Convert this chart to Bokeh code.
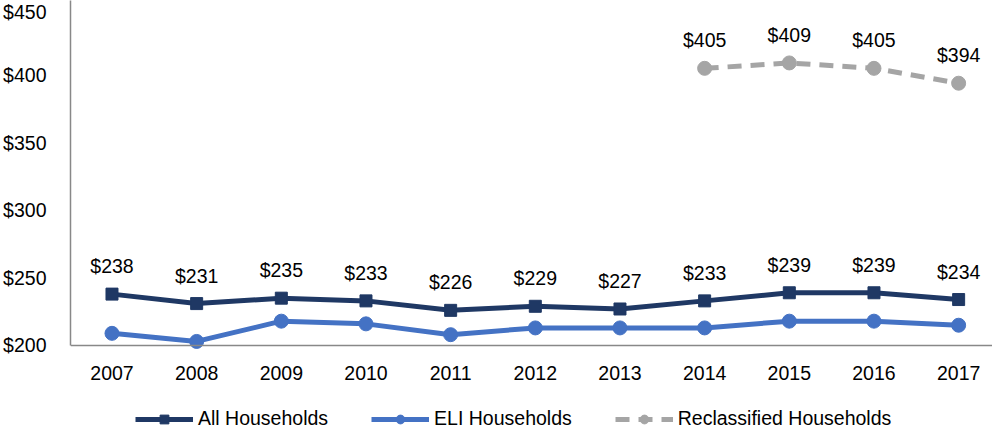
from bokeh.plotting import figure
from bokeh.models import ColumnDataSource, LabelSet, Legend, LegendItem, Range1d, FixedTicker, CustomJSTickFormatter
from bokeh.core.properties import value
from bokeh.embed import file_html
from bokeh.resources import INLINE

years = [2007, 2008, 2009, 2010, 2011, 2012, 2013, 2014, 2015, 2016, 2017]
all_households = [238, 231, 235, 233, 226, 229, 227, 233, 239, 239, 234]
eli_households = [209, 203, 218, 216, 208, 213, 213, 213, 218, 218, 215]
reclass_years = [2014, 2015, 2016, 2017]
reclass_households = [405, 409, 405, 394]
y_ticks = [200, 250, 300, 350, 400, 450]

NAVY = "#1F3864"
BLUE = "#4472C4"
GRAY = "#A5A5A5"
FONT = "Liberation Sans"
FS = "19.5px"

p = figure(width=992, height=433, output_backend="svg", toolbar_location=None,
           x_range=Range1d(2006.51, 2017.4), y_range=Range1d(134.91, 455.18),
           min_border_left=62, min_border_right=0, min_border_top=0, min_border_bottom=0)
p.outline_line_color = None
p.xgrid.visible = False
p.ygrid.visible = False
p.background_fill_color = "white"

src_all = ColumnDataSource(dict(x=years, y=all_households, t=[f"${v}" for v in all_households]))
src_eli = ColumnDataSource(dict(x=years, y=eli_households))
src_rec = ColumnDataSource(dict(x=reclass_years, y=reclass_households, t=[f"${v}" for v in reclass_households]))

l1 = p.line("x", "y", source=src_all, line_color=NAVY, line_width=5)
m1 = p.scatter("x", "y", source=src_all, marker="square", size=12, fill_color=NAVY, line_color=NAVY)
l2 = p.line("x", "y", source=src_eli, line_color=BLUE, line_width=5)
m2 = p.scatter("x", "y", source=src_eli, marker="circle", size=14, fill_color=BLUE, line_color=BLUE)
l3 = p.line("x", "y", source=src_rec, line_color=GRAY, line_width=5, line_dash="14 9")
m3 = p.scatter("x", "y", source=src_rec, marker="circle", size=14, fill_color=GRAY, line_color=GRAY)

for src in (src_all, src_rec):
    labels = LabelSet(x="x", y="y", text="t", source=src, y_offset=21,
                      text_align="center", text_baseline="alphabetic",
                      text_font=value(FONT), text_font_size=value(FS), text_color="#000000")
    p.add_layout(labels)

p.xaxis.ticker = FixedTicker(ticks=years)
p.xaxis.fixed_location = 200
p.yaxis.ticker = FixedTicker(ticks=y_ticks)
p.yaxis.bounds = (200, 455.18)
p.yaxis.formatter = CustomJSTickFormatter(code="return '$' + tick;")
for ax in (p.xaxis[0], p.yaxis[0]):
    ax.axis_line_color = "#888888"
    ax.axis_line_width = 1.5
    ax.major_tick_line_color = None
    ax.minor_tick_line_color = None
    ax.major_label_text_font = FONT
    ax.major_label_text_font_size = FS
    ax.major_label_text_color = "#000000"
p.yaxis.major_label_standoff = 18
p.xaxis.major_label_standoff = 15

legend = Legend(items=[
    LegendItem(label="All Households", renderers=[l1, m1]),
    LegendItem(label="ELI Households", renderers=[l2, m2]),
    LegendItem(label="Reclassified Households", renderers=[l3, m3]),
], orientation="horizontal", location=(65, 3), spacing=43, glyph_width=58, glyph_height=22,
    label_standoff=5, label_text_font=FONT, label_text_font_size=FS,
    label_text_color="#000000", border_line_color=None, background_fill_alpha=0,
    padding=0, margin=0)
p.add_layout(legend, "center")

open("out.html", "w").write(file_html(p, INLINE))
